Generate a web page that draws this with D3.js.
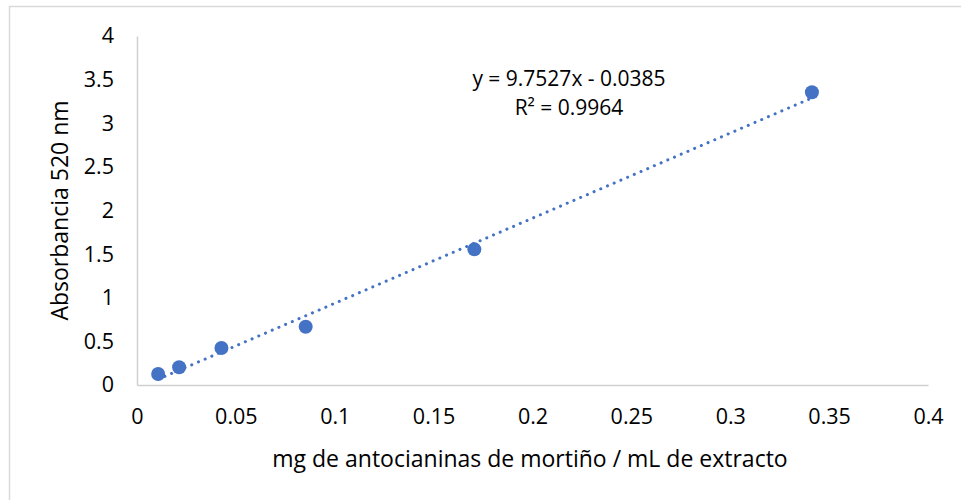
<!DOCTYPE html>
<html>
<head>
<meta charset="utf-8">
<script src="https://cdn.jsdelivr.net/npm/d3@7"></script>
<style>
  body { margin: 0; background: #fff; }
  text { font-family: "Open Sans", sans-serif; fill: #000; }
</style>
</head>
<body>
<svg id="chart"></svg>
<script>
const concentration = [0.0107, 0.0213, 0.0427, 0.0853, 0.1706, 0.3413];
const absorbance = [0.126, 0.203, 0.424, 0.668, 1.555, 3.355];
const xTicks = [0, 0.05, 0.1, 0.15, 0.2, 0.25, 0.3, 0.35, 0.4];
const yTicks = [0, 0.5, 1, 1.5, 2, 2.5, 3, 3.5, 4];
const slope = 9.7527;
const intercept = -0.0385;
const equationLines = ["y = 9.7527x - 0.0385", "R² = 0.9964"];

const width = 961;
const height = 500;
const margin = { top: 36, right: 33, bottom: 115, left: 137 };
const blue = "#4472c4";

const points = concentration.map((c, i) => ({ x: c, y: absorbance[i] }));

const svg = d3.select("#chart")
  .attr("width", width)
  .attr("height", height);

// chart area border (right/bottom edges fall outside the picture)
svg.append("rect")
  .attr("x", 9.5)
  .attr("y", 6.5)
  .attr("width", width + 20)
  .attr("height", height + 20)
  .attr("fill", "none")
  .attr("stroke", "#d9d9d9")
  .attr("stroke-width", 1.5);

const x = d3.scaleLinear()
  .domain([0, 0.4])
  .range([margin.left, width - margin.right]);

const y = d3.scaleLinear()
  .domain([0, 4])
  .range([height - margin.bottom, margin.top]);

const xAxis = svg.append("g")
  .attr("transform", `translate(0,${height - margin.bottom})`)
  .call(d3.axisBottom(x).tickValues(xTicks).tickSize(0).tickPadding(24).tickFormat(d3.format("~g")));

const yAxis = svg.append("g")
  .attr("transform", `translate(${margin.left},0)`)
  .call(d3.axisLeft(y).tickValues(yTicks).tickSize(0).tickPadding(23).tickFormat(d3.format("~g")));

[xAxis, yAxis].forEach(g => {
  g.select(".domain").attr("stroke", "#d0d0d0").attr("stroke-width", 1.5);
  g.selectAll("text").style("font-size", "21.5px").attr("fill", "#000");
});

// trendline from the fitted equation
const xMin = d3.min(concentration);
const xMax = d3.max(concentration);
svg.append("line")
  .attr("x1", x(xMin))
  .attr("y1", y(slope * xMin + intercept))
  .attr("x2", x(xMax))
  .attr("y2", y(slope * xMax + intercept))
  .attr("stroke", blue)
  .attr("stroke-width", 3)
  .attr("stroke-linecap", "round")
  .attr("stroke-dasharray", "0.1 7.2");

svg.selectAll("circle")
  .data(points)
  .enter()
  .append("circle")
  .attr("cx", d => x(d.x))
  .attr("cy", d => y(d.y))
  .attr("r", 7)
  .attr("fill", blue);

svg.selectAll(".eq")
  .data(equationLines)
  .enter()
  .append("text")
  .attr("class", "eq")
  .attr("x", 569)
  .attr("y", (d, i) => 86 + i * 29)
  .attr("text-anchor", "middle")
  .style("font-size", "21px")
  .text(d => d);

svg.append("text")
  .attr("x", 530)
  .attr("y", 467)
  .attr("text-anchor", "middle")
  .style("font-size", "23px")
  .text("mg de antocianinas de mortiño / mL de extracto");

svg.append("text")
  .attr("transform", `translate(68,${(margin.top + height - margin.bottom) / 2}) rotate(-90)`)
  .attr("text-anchor", "middle")
  .style("font-size", "23px")
  .text("Absorbancia 520 nm");
</script>
</body>
</html>
